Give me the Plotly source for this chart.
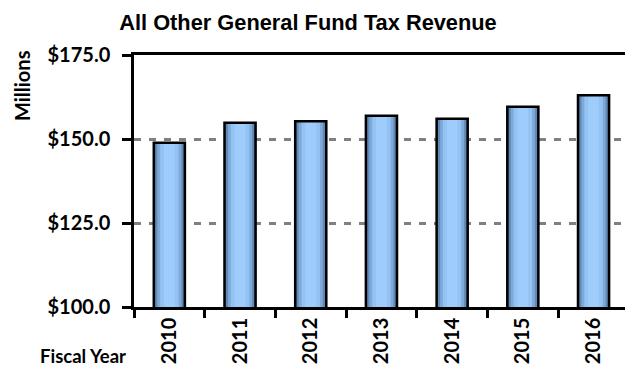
import plotly.graph_objects as go

years = ["2010", "2011", "2012", "2013", "2014", "2015", "2016"]
revenue = [148.9, 154.8, 155.3, 156.9, 156.0, 159.6, 163.0]
y_ticks = [100, 125, 150, 175]
y_tick_text = ["$100.0", "$125.0", "$150.0", "$175.0"]

fig = go.Figure()

# gradient-like fill built from layered bars
layers = [(0.44, "#46678d"), (0.40, "#6189b6"), (0.34, "#7eaadb"), (0.26, "#94c3f3"), (0.15, "#9fcdfb")]
for w, c in layers:
    fig.add_trace(go.Bar(x=years, y=revenue, width=w, marker=dict(color=c, line=dict(width=0)),
                         hoverinfo="skip", showlegend=False))
# outline
fig.add_trace(go.Bar(x=years, y=revenue, width=0.44,
                     marker=dict(color="rgba(0,0,0,0)", line=dict(color="black", width=2.5)),
                     showlegend=False))

fig.update_layout(
    width=625, height=373,
    margin=dict(l=134, r=0, t=55, b=66),
    barmode="overlay",
    plot_bgcolor="white", paper_bgcolor="white",
    title=dict(text="<b>All Other General Fund Tax Revenue</b>", x=308/625, xanchor="center",
               xref="container", y=1-22/373, yanchor="middle", yref="container",
               font=dict(family="Liberation Sans, Arial", size=21.8, color="black")),
    font=dict(family="Lato", color="black"),
)

fig.update_xaxes(
    type="category", range=[-0.5, 6.445],
    showline=True, linecolor="black", linewidth=2.5, mirror=True,
    ticks="outside", tickson="boundaries", ticklen=8, tickwidth=2.5, tickcolor="black",
    tickangle=-90, tickfont=dict(family="Lato", size=20, weight="bold"),
    showgrid=False,
)
fig.update_yaxes(
    range=[100, 175], tickvals=y_ticks, ticktext=y_tick_text,
    showline=True, linecolor="black", linewidth=2.5,
    ticks="outside", ticklen=9, tickwidth=2.5, tickcolor="black",
    ticklabelstandoff=8,
    tickfont=dict(family="Lato", size=20, weight="bold"),
    showgrid=True, gridcolor="#808080", gridwidth=3, griddash="7px,8px",
    zeroline=False,
)

fig.add_annotation(text="<b>Millions</b>", textangle=-90, xref="paper", yref="paper",
                   x=(22-134)/491, y=(307-86)/252, xanchor="center", yanchor="middle",
                   showarrow=False, font=dict(family="Lato", size=20, color="black"))
fig.add_annotation(text="<b>Fiscal Year</b>", xref="paper", yref="paper",
                   x=(83-134)/491, y=(307-356)/252, xanchor="center", yanchor="middle",
                   showarrow=False, font=dict(family="Lato", size=18.5, color="black"))

fig.write_html("out.html", config={"displayModeBar": False},
               post_script="document.body.style.margin='0';document.body.style.overflow='hidden';")
